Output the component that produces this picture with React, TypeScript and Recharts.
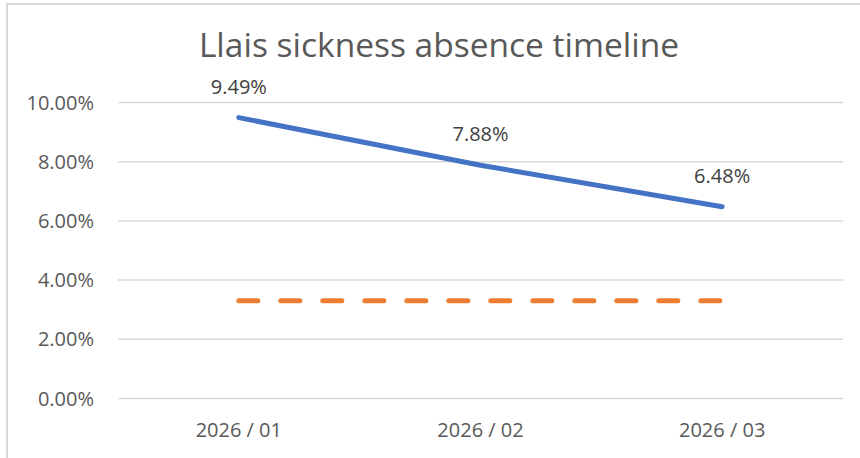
import React from 'react';
import {
  ComposedChart, Line, XAxis, YAxis, CartesianGrid, LabelList
} from 'recharts';

const months = ['2026 / 01', '2026 / 02', '2026 / 03'];
const absenceRate = [0.0949, 0.0788, 0.0648];
const targetRate = [0.033, 0.033, 0.033];
const yTicks = [0, 0.02, 0.04, 0.06, 0.08, 0.1];

const FONT = '"Open Sans", sans-serif';
const pct = (v: number) => `${(v * 100).toFixed(2)}%`;

// plot area is 725px wide; half a category band on each side
const PLOT_W = 725;
const halfBand = PLOT_W / months.length / 2;

export default function App() {
  const data = months.map((m, i) => ({
    month: m,
    rate: absenceRate[i],
    target: targetRate[i],
  }));

  return (
    <div style={{ position: 'absolute', left: 0, top: 0, width: 860, height: 458, background: '#fff', overflow: 'hidden', fontFamily: FONT }}>
      <div style={{ position: 'absolute', left: 6, top: 3, width: 900, height: 500, border: '2px solid #d9d9d9', boxSizing: 'border-box' }} />
      <div style={{ position: 'absolute', left: 0, top: 28, width: 878, textAlign: 'center', fontSize: 33.5, lineHeight: '33px', color: '#595959' }}>
        Llais sickness absence timeline
      </div>
      <div style={{ position: 'absolute', left: 0, top: 0 }}>
        <ComposedChart width={860} height={458} data={data} margin={{ top: 102.5, right: 17, bottom: 0, left: 0 }}>
          <CartesianGrid vertical={false} stroke="#d9d9d9" strokeWidth={1.5} />
          <XAxis
            dataKey="month"
            height={59.5}
            padding={{ left: halfBand, right: halfBand }}
            axisLine={false}
            tickLine={false}
            tickSize={0}
            tickMargin={24}
            tick={{ fill: '#595959', fontSize: 20, fontFamily: FONT }}
          />
          <YAxis
            width={118}
            domain={[0, 0.1]}
            ticks={yTicks}
            tickFormatter={pct}
            axisLine={false}
            tickLine={false}
            tickSize={0}
            tickMargin={24}
            tick={{ fill: '#595959', fontSize: 20, fontFamily: FONT }}
          />
          <Line
            dataKey="target"
            stroke="#ED7D31"
            strokeWidth={5}
            strokeDasharray="19 23"
            strokeLinecap="round"
            dot={false}
            activeDot={false}
            isAnimationActive={false}
          />
          <Line
            dataKey="rate"
            stroke="#4472C4"
            strokeWidth={5}
            strokeLinecap="round"
            dot={false}
            activeDot={false}
            isAnimationActive={false}
          >
            <LabelList dataKey="rate" position="top" offset={24} formatter={(v: any) => pct(Number(v))} fill="#404040" fontSize={20} fontFamily={FONT} />
          </Line>
        </ComposedChart>
      </div>
    </div>
  );
}
